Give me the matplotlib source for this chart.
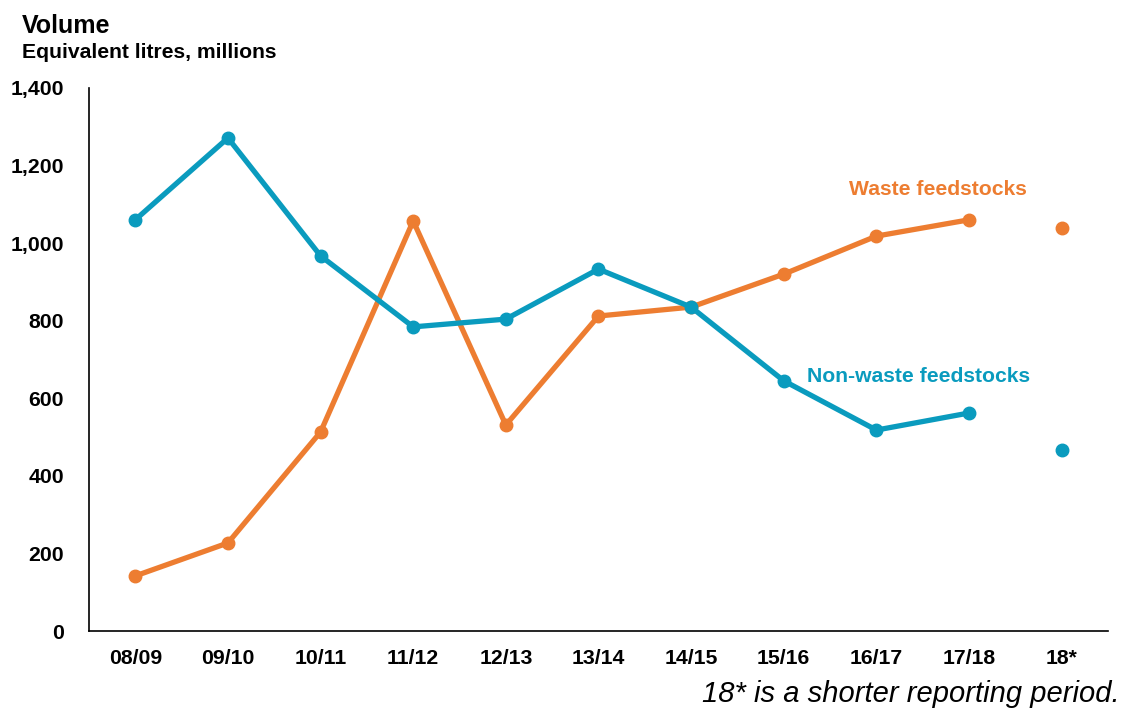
import matplotlib.pyplot as plt
import numpy as np

plt.rcParams['font.family'] = ['Liberation Sans', 'DejaVu Sans']

# Data
periods = ['08/09', '09/10', '10/11', '11/12', '12/13', '13/14',
           '14/15', '15/16', '16/17', '17/18', '18*']
waste = [142, 227, 513, 1057, 531, 812, 835, 920, 1018, 1060, 1039]
non_waste = [1060, 1271, 967, 784, 804, 933, 835, 645, 518, 562, 467]

orange = '#ED7D31'
blue = '#0A9BBE'

fig = plt.figure(figsize=(11.22, 7.09), dpi=100)
ax = fig.add_axes([0.0793, 0.110, 0.9082, 0.766])

x = np.arange(len(periods))
# Full years joined by a line, the short period 18* stands alone
ax.plot(x[:-1], waste[:-1], color=orange, lw=3.8, marker='o', ms=9, zorder=3)
ax.plot(x[-1:], waste[-1:], color=orange, lw=0, marker='o', ms=9, zorder=3)
ax.plot(x[:-1], non_waste[:-1], color=blue, lw=3.8, marker='o', ms=9, zorder=4)
ax.plot(x[-1:], non_waste[-1:], color=blue, lw=0, marker='o', ms=9, zorder=4)

ax.set_xlim(-0.5, 10.5)
ax.set_ylim(0, 1400)
ax.set_yticks(np.arange(0, 1401, 200))
ax.set_yticklabels([f'{v:,}' for v in range(0, 1401, 200)])
ax.set_xticks(x)
ax.set_xticklabels(periods)

for s in ['top', 'right']:
    ax.spines[s].set_visible(False)
for s in ['left', 'bottom']:
    ax.spines[s].set_linewidth(1.2)
ax.tick_params(axis='both', length=0, labelsize=15.3)
ax.tick_params(axis='x', pad=13)
ax.tick_params(axis='y', pad=18)
for lab in ax.get_xticklabels() + ax.get_yticklabels():
    lab.set_fontweight('bold')

ax.text(8.66, 1139, 'Waste feedstocks', color=orange, fontsize=15.2,
        fontweight='bold', ha='center', va='center')
ax.text(8.46, 655, 'Non-waste feedstocks', color=blue, fontsize=15.2,
        fontweight='bold', ha='center', va='center')

fig.text(22 / 1122, 1 - 26 / 709, 'Volume', fontsize=18, fontweight='bold',
         ha='left', va='center')
fig.text(22 / 1122, 1 - 53 / 709, 'Equivalent litres, millions', fontsize=15.2,
         fontweight='bold', ha='left', va='center')
fig.text(1120 / 1122, 1 - 694 / 709, '18* is a shorter reporting period.',
         fontsize=21, style='italic', ha='right', va='center')

fig.savefig('out.png', dpi=100)
